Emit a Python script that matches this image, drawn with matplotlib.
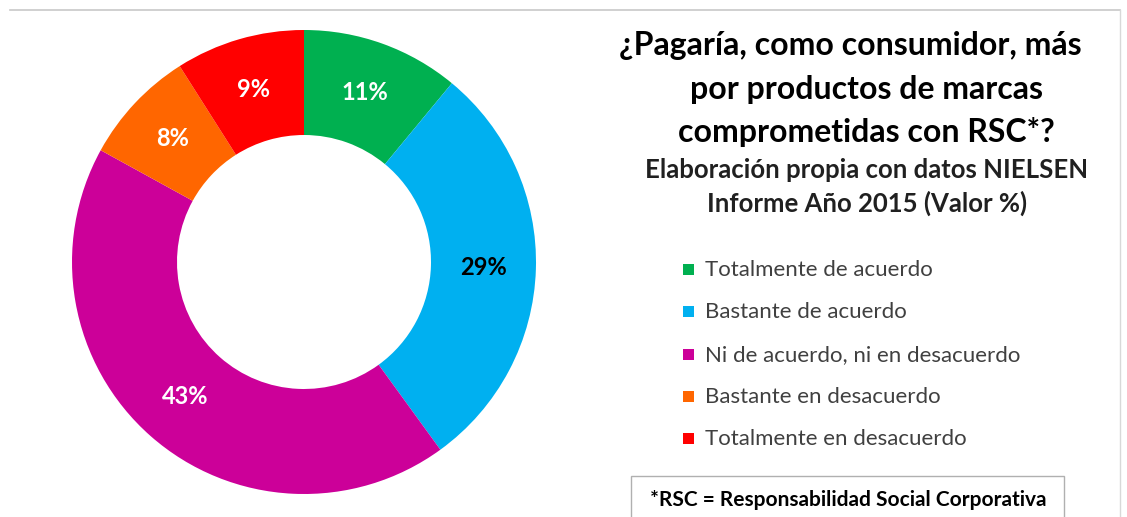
import matplotlib.pyplot as plt
from matplotlib.patches import Rectangle
from matplotlib.lines import Line2D

# datos
categorias = ['Totalmente de acuerdo', 'Bastante de acuerdo',
              'Ni de acuerdo, ni en desacuerdo', 'Bastante en desacuerdo',
              'Totalmente en desacuerdo']
valores = [11, 29, 43, 8, 9]
colores = ['#00B050', '#00B0F0', '#CC0099', '#FF6600', '#FF0000']
color_etiqueta = ['white', 'black', 'white', 'white', 'white']

W, H = 1127, 517
fig = plt.figure(figsize=(W / 100, H / 100), dpi=100)

# donut
ax = fig.add_axes([(304 - 232) / W, (517 - 494) / H, 464 / W, 464 / H])
wedges, textos, autotextos = ax.pie(
    valores, colors=colores, startangle=90, counterclock=False,
    radius=1, wedgeprops=dict(width=1 - 127 / 232, edgecolor='none'),
    autopct='%d%%', pctdistance=0.775)
for t, c in zip(autotextos, color_etiqueta):
    t.set_color(c)
    t.set_fontsize(17)
    t.set_fontweight('bold')
    t.set_family('Lato')
ax.set_xlim(-1, 1)
ax.set_ylim(-1, 1)
ax.set_aspect('equal')
ax.axis('off')

# marco superior y derecho
fig.add_artist(Line2D([10 / W, 1120 / W], [1 - 10 / H, 1 - 10 / H],
                      color='#C8C8C8', lw=1.2))
fig.add_artist(Line2D([1120 / W, 1120 / W], [1 - 10 / H, 0],
                      color='#D8D8D8', lw=1))

# titulo
titulo = ['¿Pagaría, como consumidor, más', 'por productos de marcas',
          'comprometidas con RSC*?']
centros = [850, 866, 866]
for i, (linea, cx) in enumerate(zip(titulo, centros)):
    fig.text(cx / W, 1 - (46 + i * 43) / H, linea, ha='center', va='center',
             fontsize=23, fontweight='bold', family='Lato', color='black')
subtitulo = ['Elaboración propia con datos NIELSEN', 'Informe Año 2015 (Valor %)']
for i, linea in enumerate(subtitulo):
    fig.text(867 / W, 1 - (170 + i * 33) / H, linea, ha='center', va='center',
             fontsize=18.5, fontweight='bold', family='Lato', color='#202020')

# leyenda
for i, (cat, col) in enumerate(zip(categorias, colores)):
    y = 1 - (270 + i * 42.3) / H
    fig.add_artist(Rectangle((683 / W, y - 5 / H), 11 / W, 11 / H,
                             facecolor=col, edgecolor='none'))
    fig.text(705 / W, y, cat, ha='left', va='center', fontsize=16,
             family='Lato', color='#404040')

# nota
fig.add_artist(Rectangle((631 / W, -0.05), (1064 - 631) / W, 0.05 + (517 - 476) / H,
                         facecolor='white', edgecolor='#B0B0B0', lw=1))
fig.text(848 / W, 1 - 500 / H, '*RSC = Responsabilidad Social Corporativa',
         ha='center', va='center', fontsize=15, fontweight='bold',
         family='Lato', color='black')

fig.savefig('out.png', dpi=100)
